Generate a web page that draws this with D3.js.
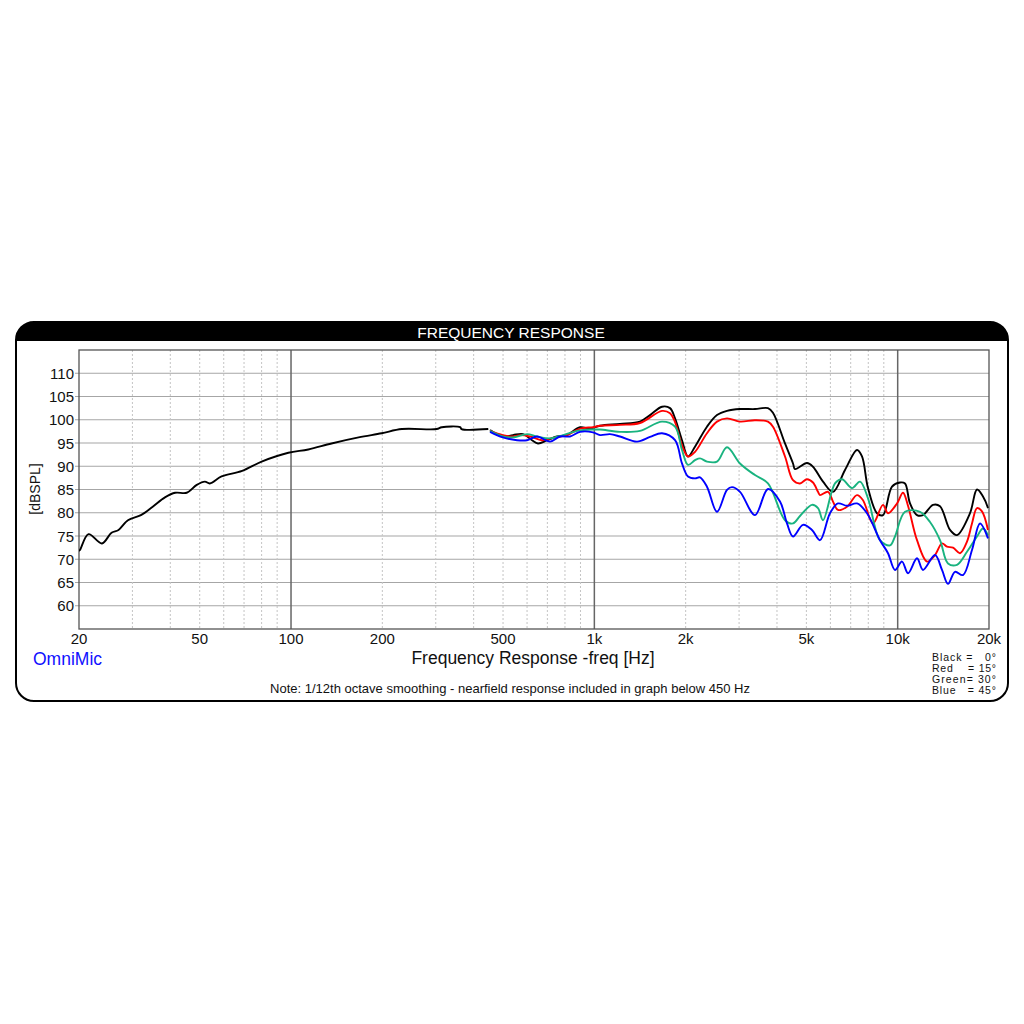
<!DOCTYPE html>
<html><head><meta charset="utf-8">
<script src="https://cdn.jsdelivr.net/npm/d3@7"></script>
<style>html,body{margin:0;padding:0;background:#fff;} svg{display:block;font-family:"Liberation Sans",Arial,sans-serif;}</style>
</head><body><svg id="c" width="1024" height="1024"></svg>
<script>
// ---- data ----
const yTicks = [60, 65, 70, 75, 80, 85, 90, 95, 100, 105, 110];
const xTickValues = [20, 50, 100, 200, 500, 1000, 2000, 5000, 10000, 20000];
const xTickLabels = ["20", "50", "100", "200", "500", "1k", "2k", "5k", "10k", "20k"];
const minorFreqs = [30, 40, 50, 60, 70, 80, 90, 200, 300, 400, 500, 600, 700, 800, 900, 2000, 3000, 4000, 5000, 6000, 7000, 8000, 9000];
const majorFreqs = [100, 1000, 10000];

// nearfield-merged black curve below 450 Hz
const nearFreq = [20, 20.15, 21.5, 23.8, 25.6, 27, 29, 32, 35, 38.4, 41.5, 45.3, 48.9, 52, 54, 59, 69, 80, 98, 114, 136, 167, 199, 232, 302, 314, 361, 365, 447];
const nearSpl  = [71.8, 72, 75.4, 73.4, 75.7, 76.3, 78.4, 79.5, 81.3, 83.3, 84.3, 84.3, 86, 86.7, 86.3, 87.8, 89, 91, 92.9, 93.6, 94.9, 96.2, 97.1, 98, 98, 98.4, 98.4, 98, 98];

// 0 degrees (black)
const freq0 = [453, 499, 539, 582, 623, 652, 699, 753, 812, 897, 968, 1044, 1215, 1414, 1526, 1671, 1776, 1845, 1945, 2036, 2147, 2351, 2537, 2737, 3021, 3385, 3736, 3880, 4251, 4518, 4586, 5024, 5257, 5673, 6120, 6704, 7343, 7627, 7983, 8547, 8945, 9577, 10177, 10571, 10980, 11580, 12118, 13074, 13788, 14875, 15686, 17313, 18258, 19108, 19847];
const spl0  = [97.8, 96.4, 96.7, 96.9, 95.6, 94.9, 95.6, 96.4, 96.7, 98.4, 98.1, 98.7, 99.1, 99.6, 101, 102.8, 102.5, 100.3, 95.6, 92.1, 94.2, 98.5, 101, 101.9, 102.3, 102.3, 102.5, 101.5, 94.9, 90.6, 89.4, 90.7, 89.9, 86.7, 84.5, 89.2, 93.5, 92.1, 85.3, 79.9, 79.5, 85.6, 86.5, 86.3, 82, 79.5, 79.5, 81.7, 81.4, 76.3, 75.2, 79.9, 85, 83.5, 81];

// 15 degrees (red)
const freq15 = [453, 499, 535, 569, 614, 672, 730, 812, 897, 990, 1044, 1215, 1414, 1671, 1776, 1845, 1945, 2036, 2147, 2351, 2537, 2737, 3021, 3385, 3736, 3880, 4251, 4518, 4763, 5024, 5257, 5461, 5545, 5892, 6120, 6356, 6807, 7343, 7685, 8291, 8945, 9291, 9948, 10411, 10814, 11580, 12492, 13275, 13999, 14541, 15217, 16048, 16923, 17578, 18258, 18964, 19847];
const spl15  = [97.6, 96.7, 96.4, 96.7, 96.4, 95.6, 96.1, 96.7, 98.1, 98.4, 98.7, 98.9, 99.3, 101.9, 101.4, 99.5, 94.5, 92.1, 93.1, 97.1, 99.6, 100.3, 99.6, 99.9, 99.6, 98.5, 92.1, 87, 86.3, 87.2, 86.5, 84.5, 83.8, 84.5, 82.4, 80.6, 81.3, 83.8, 82.7, 77.7, 81.7, 79.9, 82, 84.3, 81.5, 74.1, 69.5, 70.9, 73.4, 72.7, 72.5, 71.3, 73.8, 77.7, 81, 80.3, 76.3];

// 30 degrees (green)
const freq30 = [453, 499, 539, 600, 647, 714, 789, 877, 990, 1044, 1215, 1414, 1671, 1845, 1945, 2036, 2147, 2230, 2351, 2537, 2737, 3021, 3385, 3736, 4251, 4518, 4763, 5218, 5461, 5673, 6213, 6553, 7070, 7512, 7983, 8744, 9433, 9798, 10571, 11846, 12780, 13788, 14651, 15686, 16923, 18258, 19108, 19847];
const spl30  = [97.6, 96.4, 96.2, 96.9, 96.4, 96, 96.7, 97.6, 97.9, 97.9, 97.4, 97.6, 99.6, 98.5, 93.5, 90.3, 91.3, 91.7, 91, 91, 94.1, 90.6, 88.1, 86.3, 78.4, 77.7, 79.3, 81.7, 81, 78.4, 86.3, 87.2, 85.3, 86.7, 83.1, 74.1, 73, 74.9, 80.2, 80.2, 78, 74.1, 69.1, 68.8, 71.6, 74.9, 76.6, 75.2];

// 45 degrees (blue)
const freq45 = [453, 499, 556, 600, 647, 714, 771, 831, 897, 990, 1044, 1126, 1215, 1383, 1526, 1671, 1845, 1945, 2036, 2147, 2230, 2351, 2537, 2737, 2843, 3021, 3385, 3736, 4093, 4316, 4518, 4873, 5218, 5545, 5982, 6356, 6807, 7343, 7922, 8744, 9291, 9798, 10333, 10814, 11580, 12118, 13275, 13999, 14651, 15450, 16417, 17578, 18678, 19847];
const spl45  = [97.4, 96.2, 95.6, 95.6, 96.4, 95.3, 96.4, 96.4, 97.4, 97.3, 96.7, 96.9, 96.4, 95.3, 96.3, 97.1, 95.6, 90.6, 87.8, 87.4, 87.6, 85.6, 80.2, 84.9, 85.5, 84.5, 79.5, 85.1, 82.4, 77.7, 74.9, 77.4, 76.3, 74.1, 79.9, 82, 81.5, 82, 79.9, 74.1, 71.3, 67.7, 69.5, 67, 70.2, 67.7, 70.9, 67.7, 64.7, 67.3, 66.6, 72, 77.7, 74.5];

const legendLines = ["Black =   0°", "Red    = 15°", "Green= 30°", "Blue   = 45°"];

// ---- drawing ----
const svg = d3.select("#c");
const L = 79, R = 989, T = 350, B = 629;
const x = d3.scaleLog().domain([20, 20000]).range([L, R]);
const y = d3.scaleLinear().domain([55, 115]).range([B, T]);

// frame
const FX = 16, FY = 322, FW = 992, FH = 379, FR = 18;
const defs = svg.append("defs");
defs.append("clipPath").attr("id", "frameClip").append("rect")
  .attr("x", FX).attr("y", FY).attr("width", FW).attr("height", FH).attr("rx", FR).attr("ry", FR);
defs.append("clipPath").attr("id", "plotClip").append("rect")
  .attr("x", L).attr("y", T).attr("width", R - L).attr("height", B - T);

svg.append("rect").attr("x", FX).attr("y", FY).attr("width", FW).attr("height", FH)
  .attr("rx", FR).attr("ry", FR).attr("fill", "#fff");
svg.append("rect").attr("clip-path", "url(#frameClip)")
  .attr("x", FX).attr("y", FY).attr("width", FW).attr("height", 19).attr("fill", "#000");
svg.append("rect").attr("x", FX).attr("y", FY).attr("width", FW).attr("height", FH)
  .attr("rx", FR).attr("ry", FR).attr("fill", "none").attr("stroke", "#000").attr("stroke-width", 2);
svg.append("text").attr("x", 511).attr("y", 337.5).attr("text-anchor", "middle")
  .attr("fill", "#fff").attr("font-size", 15.5).text("FREQUENCY RESPONSE");

// grid
const g = svg.append("g");
g.selectAll(".hg").data(yTicks).join("line")
  .attr("x1", L - 4).attr("x2", R).attr("y1", d => y(d)).attr("y2", d => y(d))
  .attr("stroke", "#a6a6a6").attr("stroke-width", 1.2);
g.selectAll(".mv").data(minorFreqs).join("line")
  .attr("x1", d => x(d)).attr("x2", d => x(d)).attr("y1", T).attr("y2", B)
  .attr("stroke", "#c4c4c4").attr("stroke-width", 1).attr("stroke-dasharray", "2,2");
g.selectAll(".Mv").data(majorFreqs).join("line")
  .attr("x1", d => x(d)).attr("x2", d => x(d)).attr("y1", T).attr("y2", B)
  .attr("stroke", "#666").attr("stroke-width", 1.5);
g.append("rect").attr("x", L).attr("y", T).attr("width", R - L).attr("height", B - T)
  .attr("fill", "none").attr("stroke", "#555").attr("stroke-width", 1.3);

// axes labels
svg.selectAll(".yl").data(yTicks).join("text")
  .attr("x", 74).attr("y", d => y(d) + 5.5).attr("text-anchor", "end")
  .attr("font-size", 15).attr("fill", "#111").text(d => d);
svg.selectAll(".xl").data(xTickValues).join("text")
  .attr("x", d => x(d)).attr("y", 644).attr("text-anchor", "middle")
  .attr("font-size", 15).attr("fill", "#111").text((d, i) => xTickLabels[i]);
svg.append("text").attr("transform", "translate(40,489) rotate(-90)").attr("text-anchor", "middle")
  .attr("font-size", 14).attr("fill", "#111").text("[dBSPL]");
svg.append("text").attr("x", 533).attr("y", 664).attr("text-anchor", "middle")
  .attr("font-size", 17.5).attr("fill", "#111").text("Frequency Response -freq [Hz]");
svg.append("text").attr("x", 33).attr("y", 665).attr("font-size", 17.5).attr("fill", "#1010ff").text("OmniMic");
svg.append("text").attr("x", 510).attr("y", 693).attr("text-anchor", "middle")
  .attr("font-size", 13).attr("fill", "#111")
  .text("Note: 1/12th octave smoothing - nearfield response included in graph below 450 Hz");

// legend
svg.selectAll(".leg").data(legendLines).join("text")
  .attr("x", 932).attr("y", (d, i) => 660.5 + i * 11)
  .attr("font-size", 10.5).attr("fill", "#111")
  .attr("textLength", 64).attr("lengthAdjust", "spacing")
  .style("white-space", "pre").text(d => d);

// curves
const line = d3.line().x(d => x(d[0])).y(d => y(d[1])).curve(d3.curveCatmullRom.alpha(0.5));
const curves = svg.append("g").attr("clip-path", "url(#plotClip)");
const series = [
  {f: nearFreq, s: nearSpl, c: "#000"},
  {f: freq0, s: spl0, c: "#000"},
  {f: freq15, s: spl15, c: "#ff0000"},
  {f: freq30, s: spl30, c: "#19b37f"},
  {f: freq45, s: spl45, c: "#0000ff"}
];
series.forEach(sr => {
  curves.append("path").datum(sr.f.map((f, i) => [f, sr.s[i]]))
    .attr("d", line).attr("fill", "none").attr("stroke", sr.c).attr("stroke-width", 1.9)
    .attr("stroke-linejoin", "round");
});
</script></body></html>
